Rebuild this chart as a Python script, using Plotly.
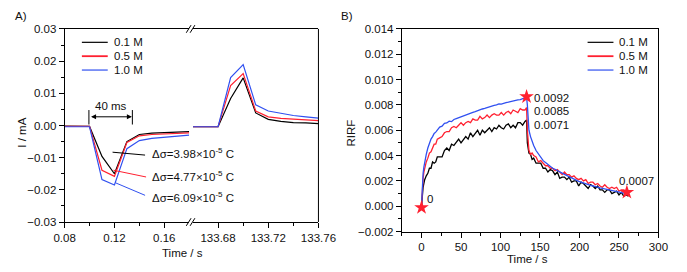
import plotly.graph_objects as go

# ---------------- Panel A data ----------------
tA1 = [0.08, 0.09, 0.10, 0.11, 0.12, 0.13, 0.14, 0.15, 0.16, 0.17, 0.18]
a_black1 = [-0.0002, -0.0002, -0.0003, -0.0096, -0.0150, -0.0050, -0.0028, -0.0024, -0.0022, -0.0020, -0.0019]
a_red1 = [-0.0003, -0.0003, -0.0003, -0.0139, -0.0158, -0.0053, -0.0032, -0.0028, -0.0026, -0.0024, -0.0023]
a_blue1 = [-0.0004, -0.0004, -0.0004, -0.0168, -0.0185, -0.0072, -0.0047, -0.0040, -0.0036, -0.0033, -0.0030]

tA2 = [133.66, 133.67, 133.68, 133.69, 133.70, 133.71, 133.72, 133.73, 133.74, 133.75, 133.76]
a_black2 = [-0.0004, -0.0004, -0.0004, 0.0084, 0.0148, 0.0039, 0.0019, 0.0013, 0.0009, 0.0008, 0.0006]
a_red2 = [-0.0004, -0.0004, -0.0004, 0.0124, 0.0161, 0.0045, 0.0027, 0.0022, 0.0019, 0.0017, 0.0015]
a_blue2 = [-0.0004, -0.0004, -0.0004, 0.0149, 0.0189, 0.0064, 0.0045, 0.0038, 0.0031, 0.0027, 0.0023]

series_names = ["0.1 M", "0.5 M", "1.0 M"]
series_colors = ["#000000", "#ff2030", "#3050f0"]

dsigma_labels = ["Δσ=3.98×10<sup>-5</sup> C", "Δσ=4.77×10<sup>-5</sup> C", "Δσ=6.09×10<sup>-5</sup> C"]

# ---------------- Panel B data ----------------
tB = [0, 1, 2, 3, 4, 6, 8, 10, 12, 14, 16, 18, 20, 23, 26, 29, 32, 35, 38, 41, 44, 47, 50, 53, 56, 59, 62, 65,
      68, 71, 74, 77, 80, 83, 86, 89, 92, 95, 98, 101, 104, 107, 110, 113, 116, 119, 122, 125, 128, 131, 133,
      134, 135, 136, 138, 140, 142, 145, 148, 151, 154, 157, 160, 163, 166, 169, 172, 175, 178, 181, 184, 187,
      190, 193, 196, 199, 202, 205, 208, 211, 214, 217, 220, 223, 226, 229, 232, 235, 238, 241, 244, 247, 250,
      253, 256, 259, 262]

b_blue = [0.0, 0.0018, 0.0026, 0.0031, 0.0035, 0.0041, 0.0046, 0.0050, 0.0053, 0.0055, 0.00575, 0.00585, 0.0060,
          0.00625, 0.00632, 0.00655, 0.00658, 0.00672, 0.00668, 0.00685, 0.00692, 0.00700, 0.00708, 0.00715,
          0.00722, 0.00728, 0.00738, 0.00742, 0.00748, 0.00756, 0.00760, 0.00768, 0.00772, 0.00779, 0.00782,
          0.00790, 0.00796, 0.00800, 0.00808, 0.00806, 0.00814, 0.00818, 0.00822, 0.00828, 0.00830, 0.00834,
          0.00840, 0.00842, 0.00848, 0.00852, 0.00862,
          0.0080, 0.0068, 0.0060, 0.0055, 0.0051, 0.0048, 0.0044, 0.0041, 0.00385, 0.0036, 0.00345, 0.0033,
          0.00312, 0.0030, 0.00292, 0.00280, 0.00272, 0.00262, 0.00252, 0.00242, 0.00232, 0.00222, 0.00214,
          0.00204, 0.00196, 0.00190, 0.00182, 0.00174, 0.00170, 0.00164, 0.00160, 0.00153, 0.00150, 0.00145,
          0.00142, 0.00138, 0.00134, 0.00130, 0.00127, 0.00122, 0.00119, 0.00114, 0.00111, 0.00108, 0.00102,
          0.00095]

b_red = [0.0, 0.0015, 0.0022, 0.0027, 0.0030, 0.0035, 0.0038, 0.0042, 0.0043, 0.0046, 0.0049, 0.0049, 0.0053,
         0.0054, 0.0055, 0.0058, 0.0059, 0.0059, 0.0062, 0.0063, 0.0062, 0.0064, 0.0066, 0.0064, 0.0066, 0.0067,
         0.0066, 0.0069, 0.0068, 0.0068, 0.0071, 0.0069, 0.0070, 0.0072, 0.0070, 0.0072, 0.0073, 0.0072, 0.0072,
         0.0074, 0.0072, 0.0074, 0.0075, 0.0073, 0.0076, 0.0075, 0.0074, 0.0077, 0.0076, 0.0076, 0.0078,
         0.0060, 0.0045, 0.0044, 0.0041, 0.0042, 0.0040, 0.0039, 0.0035, 0.0036, 0.0034, 0.0032, 0.0032, 0.0030,
         0.0030, 0.0028, 0.0029, 0.0027, 0.0025, 0.0027, 0.0025, 0.0025, 0.0023, 0.0024, 0.0022, 0.0021, 0.0022,
         0.0020, 0.0021, 0.0018, 0.0019, 0.0019, 0.0017, 0.0018, 0.0016, 0.0015, 0.0017, 0.0015, 0.0014, 0.0015,
         0.0014, 0.0015, 0.0012, 0.0013, 0.0013, 0.0012, 0.0011]

b_black = [0.0, 0.0010, 0.0015, 0.0018, 0.0021, 0.0024, 0.0026, 0.0030, 0.0030, 0.0035, 0.0034, 0.0035, 0.0039,
           0.0039, 0.0039, 0.0044, 0.0046, 0.0044, 0.0049, 0.0048, 0.0051, 0.0053, 0.0050, 0.0053, 0.0055, 0.0053,
           0.0058, 0.0055, 0.0058, 0.0060, 0.0056, 0.0060, 0.0058, 0.0060, 0.0062, 0.0059, 0.0062, 0.0061, 0.0064,
           0.0062, 0.0061, 0.0064, 0.0065, 0.0062, 0.0064, 0.0062, 0.0066, 0.0066, 0.0064, 0.0067, 0.0068,
           0.0050, 0.0044, 0.0042, 0.0041, 0.0037, 0.0038, 0.0034, 0.0034, 0.0034, 0.0030, 0.0030, 0.0027, 0.0029,
           0.0028, 0.0025, 0.0027, 0.0022, 0.0023, 0.0023, 0.0021, 0.0023, 0.0019, 0.0020, 0.0020, 0.0016, 0.0019,
           0.0018, 0.0016, 0.0014, 0.0017, 0.0016, 0.0014, 0.0016, 0.0013, 0.0013, 0.0011, 0.0013, 0.0013, 0.0010,
           0.0011, 0.0012, 0.0009, 0.0011, 0.0008, 0.0009, 0.0008]

star_t = [0, 133, 260]
star_v = [-0.0001, 0.00865, 0.0011]
value_labels = ["0", "0.0092", "0.0085", "0.0071", "0.0007"]

# ---------------- figure ----------------
W, H = 687, 272
FONT = "Liberation Sans, Arial, sans-serif"
TXT = "#111111"


def px(x):
    return x / W


def py(y):
    return 1 - y / H


fig = go.Figure()

A1 = [a_black1, a_red1, a_blue1]
A2 = [a_black2, a_red2, a_blue2]
for vals, col in zip(A1, series_colors):
    fig.add_trace(go.Scatter(x=tA1, y=vals, mode="lines", line=dict(color=col, width=1.2),
                             xaxis="x", yaxis="y", showlegend=False))
for vals, col in zip(A2, series_colors):
    fig.add_trace(go.Scatter(x=tA2, y=vals, mode="lines", line=dict(color=col, width=1.2),
                             xaxis="x2", yaxis="y", showlegend=False))

for vals, col in zip([b_black, b_red, b_blue], series_colors):
    fig.add_trace(go.Scatter(x=tB, y=vals, mode="lines", line=dict(color=col, width=1.3),
                             xaxis="x3", yaxis="y2", showlegend=False))

fig.add_trace(go.Scatter(x=star_t, y=star_v, mode="markers",
                         marker=dict(symbol="star", size=11, color="#ff2030", line=dict(width=0)),
                         xaxis="x3", yaxis="y2", showlegend=False))

axis_common = dict(showline=True, linecolor="black", linewidth=1, ticks="outside", ticklen=5,
                   tickcolor="black", showgrid=False, zeroline=False,
                   tickfont=dict(family=FONT, size=11.5, color=TXT))

yA_dom = [py(226), py(24)]
yB_dom = [py(236), py(24)]

fig.update_layout(
    width=W, height=H, margin=dict(l=0, r=0, t=0, b=0),
    paper_bgcolor="white", plot_bgcolor="white",
    font=dict(family=FONT, size=11.5, color=TXT),
    xaxis=dict(domain=[px(56), px(186)], range=[0.08, 0.18], anchor="y",
               tickvals=[0.08, 0.12, 0.16], ticktext=["0.08", "0.12", "0.16"], mirror=True,
               minor=dict(tickvals=[0.10, 0.14], ticks="outside", ticklen=3, tickcolor="black"),
               **axis_common),
    xaxis2=dict(domain=[px(190), px(321)], range=[133.66, 133.76], anchor="y",
                tickvals=[133.68, 133.72, 133.76], ticktext=["133.68", "133.72", "133.76"], mirror=True,
                minor=dict(tickvals=[133.70, 133.74], ticks="outside", ticklen=3, tickcolor="black"),
                **axis_common),
    yaxis=dict(domain=yA_dom, range=[-0.03, 0.03], anchor="x", dtick=0.01, tick0=0, tickformat=".2f",
               minor=dict(dtick=0.005, tick0=0, ticks="outside", ticklen=3, tickcolor="black"),
               **axis_common),
    xaxis3=dict(domain=[px(408), px(676)], range=[-25, 300], anchor="y2", dtick=50, tick0=0, mirror=True,
                minor=dict(dtick=25, tick0=0, ticks="outside", ticklen=3, tickcolor="black"),
                **axis_common),
    yaxis2=dict(domain=yB_dom, range=[-0.002, 0.014], anchor="x3", dtick=0.002, tick0=0, tickformat=".3f",
                mirror=True,
                minor=dict(dtick=0.001, tick0=0, ticks="outside", ticklen=3, tickcolor="black"),
                **axis_common),
)

shapes = []
# right border panel A
shapes.append(dict(type="line", xref="paper", yref="paper", x0=px(321), x1=px(321), y0=py(226), y1=py(24),
                   line=dict(color="black", width=1)))
# axis break marks
for yy in (24, 226):
    for dx in (0, 4):
        shapes.append(dict(type="line", xref="paper", yref="paper",
                           x0=px(183 + dx), y0=py(yy + 4), x1=px(188 + dx), y1=py(yy - 4),
                           line=dict(color="black", width=1)))

# legends (manual, both panels)
leg_y = [38, 52.5, 67]
for lx0, lx1, tx in ((74, 101, 105), (602, 629, 633)):
    for name, col, yy in zip(series_names, series_colors, leg_y):
        shapes.append(dict(type="line", xref="paper", yref="paper", x0=px(lx0), x1=px(lx1),
                           y0=py(yy), y1=py(yy), line=dict(color=col, width=1.8 if col == "#ff2030" else 1.2)))

# 40 ms bracket
for xb in (0.0995, 0.1344):
    shapes.append(dict(type="line", xref="x", yref="y", x0=xb, x1=xb, y0=0.0003, y1=0.0048,
                       line=dict(color="black", width=1)))

# leader lines for delta sigma labels
leaders = [((0.1185, -0.0083), (0.1446, -0.0092)),
           ((0.1192, -0.0139), (0.1454, -0.0160)),
           ((0.1208, -0.0178), (0.1446, -0.0217))]
for ((x0, y0), (x1, y1)), col in zip(leaders, series_colors):
    shapes.append(dict(type="line", xref="x", yref="y", x0=x0, y0=y0, x1=x1, y1=y1,
                       line=dict(color=col, width=1)))

fig.update_layout(shapes=shapes)

ann = []
for name, yy in zip(series_names, leg_y):
    ann.append(dict(xref="paper", yref="paper", x=px(105), y=py(yy), text=name, showarrow=False,
                    xanchor="left", yanchor="middle", font=dict(size=11.5)))
    ann.append(dict(xref="paper", yref="paper", x=px(633), y=py(yy), text=name, showarrow=False,
                    xanchor="left", yanchor="middle", font=dict(size=11.5)))

# 40 ms arrow and label
ann.append(dict(xref="x", yref="y", axref="x", ayref="y", x=0.1340, y=0.0027, ax=0.1000, ay=0.0027,
                text="", showarrow=True, arrowhead=2, arrowside="end+start", arrowsize=1, arrowwidth=1,
                arrowcolor="black"))
ann.append(dict(xref="x", yref="y", x=0.117, y=0.0062, text="40 ms", showarrow=False,
                xanchor="center", yanchor="middle", font=dict(size=11.5)))

for lab, yy in zip(dsigma_labels, [154, 178, 200]):
    ann.append(dict(xref="paper", yref="paper", x=px(145), y=py(yy), text=lab, showarrow=False,
                    xanchor="left", yanchor="middle", font=dict(size=11.5)))

# value labels on panel B
val_pos = [(5, 0.00055), (140.5, 0.00851), (140.5, 0.0075), (140.5, 0.00643), (247, 0.00202)]
for lab, (xx, yy) in zip(value_labels, val_pos):
    ann.append(dict(xref="x3", yref="y2", x=xx, y=yy, text=lab, showarrow=False,
                    xanchor="left", yanchor="middle", font=dict(size=11.5)))

# titles and panel letters
ann.append(dict(xref="paper", yref="paper", x=px(179), y=py(258), text="Time / s", showarrow=False,
                xanchor="center", yanchor="middle", font=dict(size=11.5)))
ann.append(dict(xref="paper", yref="paper", x=px(539), y=py(265), text="Time / s", showarrow=False,
                xanchor="center", yanchor="middle", font=dict(size=11.5)))
ann.append(dict(xref="paper", yref="paper", x=px(12), y=py(132), text="I / mA", showarrow=False,
                textangle=-90, xanchor="center", yanchor="middle", font=dict(size=11.5)))
ann.append(dict(xref="paper", yref="paper", x=px(355), y=py(133.5), text="RIRF", showarrow=False,
                textangle=-90, xanchor="center", yanchor="middle", font=dict(size=11.5)))
ann.append(dict(xref="paper", yref="paper", x=px(2), y=py(10), text="A)", showarrow=False,
                xanchor="left", yanchor="middle", font=dict(size=11.5)))
ann.append(dict(xref="paper", yref="paper", x=px(342), y=py(10), text="B)", showarrow=False,
                xanchor="left", yanchor="middle", font=dict(size=11.5)))

fig.update_layout(annotations=ann)

fig.write_html("out.html", config={"displayModeBar": False, "staticPlot": True},
               post_script="document.body.style.margin='0';document.body.style.padding='0';")
